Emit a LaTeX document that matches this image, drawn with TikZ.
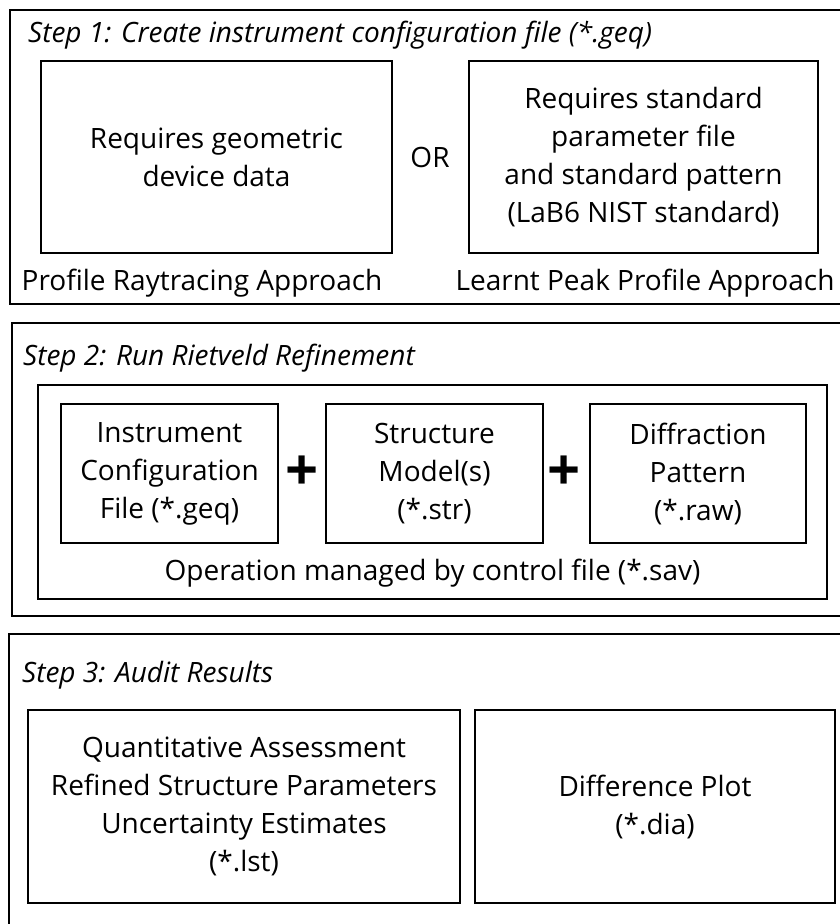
\documentclass[tikz,border=0pt]{standalone}
\usepackage{fontspec}
\setmainfont{Open Sans}
\usetikzlibrary{positioning}

\tikzset{
  stageframe/.style={draw, line width=2pt},
  itembox/.style={draw, line width=2pt, align=center, inner sep=0pt},
  txt/.style={font=\fontsize{28}{38}\selectfont},
  heading/.style={anchor=base west, inner sep=0pt, font=\itshape\fontsize{28}{32}\selectfont},
  plus/.style={inner sep=0pt, font=\bfseries\fontsize{58}{58}\selectfont}
}

\begin{document}
\begin{tikzpicture}[x=1pt, y=-1pt]
    \useasboundingbox (0,0) rectangle (839,924);

    % Frames (Steps)
    \draw[stageframe] (10,10) rectangle (850,304);
    \draw[stageframe] (12,323) rectangle (850,616);
    \draw[stageframe] (9,634) rectangle (850,940);

    % Step 1
    \node[heading] (headone) at (28,42) {Step 1: Create instrument configuration file (*.geq)};
    \node[itembox, txt, minimum width=351pt, minimum height=192pt] (geo) at (216.5,157)
        {Requires geometric\\device data};
    \node[itembox, txt, minimum width=349pt, minimum height=192pt] (std) at (643.5,157)
        {Requires standard\\parameter file\\and standard pattern\\(LaB6 NIST standard)};
    \node[txt, inner sep=0pt] (or) at (430,157) {OR};
    \node[txt, anchor=base, inner sep=0pt] (raytrace) at (202,290) {Profile Raytracing Approach};
    \node[txt, anchor=base, inner sep=0pt] (learnt) at (645,290) {Learnt Peak Profile Approach};

    % Step 2
    \node[heading] (headtwo) at (23,365) {Step 2: Run Rietveld Refinement};
    \node[draw, line width=2pt, minimum width=789pt, minimum height=214pt] (control) at (432.5,492) {};
    \node[itembox, txt, minimum width=217pt, minimum height=139pt] (geq) at (169.5,473.5)
        {Instrument\\Configuration\\File (*.geq)};
    \node[itembox, txt, minimum width=217pt, minimum height=139pt] (str) at (434.5,473.5)
        {Structure\\Model(s)\\(*.str)};
    \node[itembox, txt, minimum width=216pt, minimum height=139pt] (raw) at (698,473.5)
        {Diffraction\\Pattern\\(*.raw)};
    \node[plus] (plusa) at (302,473) {+};
    \node[plus] (plusb) at (564,473) {+};
    \node[txt, anchor=base, inner sep=0pt] (sav) at (432.5,580)
        {Operation managed by control file (*.sav)};

    % Step 3
    \node[heading] (headthree) at (22,682) {Step 3: Audit Results};
    \node[itembox, txt, minimum width=432pt, minimum height=193pt] (lst) at (244,806.5)
        {Quantitative Assessment\\Refined Structure Parameters\\Uncertainty Estimates\\(*.lst)};
    \node[itembox, txt, minimum width=360pt, minimum height=193pt] (dia) at (655,806.5)
        {Difference Plot\\(*.dia)};
\end{tikzpicture}
\end{document}
